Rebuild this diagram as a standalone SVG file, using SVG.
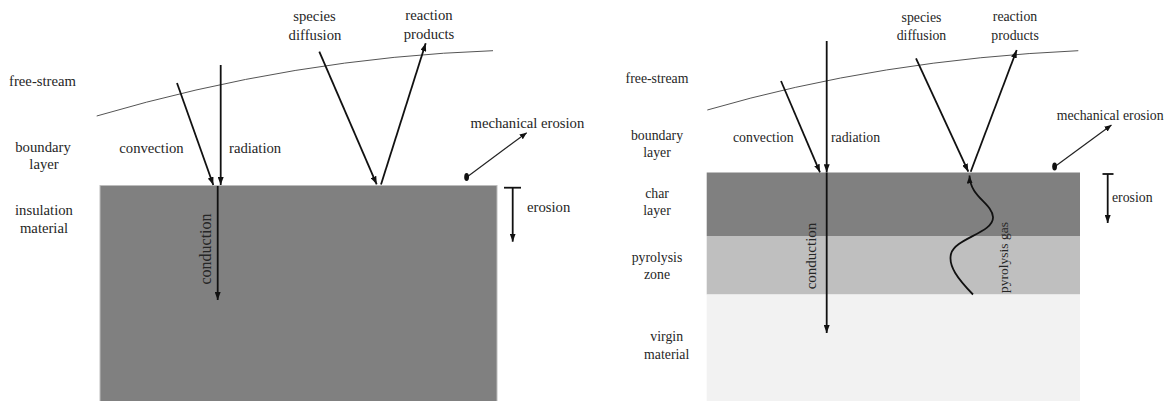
<svg xmlns="http://www.w3.org/2000/svg" width="1168" height="401" viewBox="0 0 1168 401">
<style>
text{font-family:"Liberation Serif","Times New Roman",serif;fill:#262626}
.l{font-size:14.7px}
.r{font-size:13.8px}
.c{text-anchor:middle}
.a{stroke:#111;stroke-width:1.8;fill:none}
.m{stroke:#222;stroke-width:1.2;fill:none}
.fs{stroke:#555;stroke-width:1;fill:none}
</style>
<defs>
<marker id="ah" markerUnits="userSpaceOnUse" markerWidth="8" markerHeight="6" refX="8" refY="3" orient="auto">
<path d="M0,0 L8,3 L0,6 z" fill="#111"/>
</marker>
<marker id="ahs" markerUnits="userSpaceOnUse" markerWidth="7" markerHeight="6" refX="7" refY="3" orient="auto">
<path d="M0,0 L7,3 L0,6 z" fill="#111"/>
</marker>
</defs>

<g id="left-panel">
<g id="insulation-material">
<rect x="100" y="185.5" width="397" height="216" fill="#808080" stroke="#bdbdbd" stroke-width="1"/>
</g>
<g id="free-stream-left">
<path class="fs" d="M96.7,116 Q295.4,57.6 493,50.7"/>
</g>
<g id="labels-left">
<text class="l c" x="42.5" y="86">free-stream</text>
<text class="l c" x="43" y="151.5">boundary</text>
<text class="l c" x="44" y="168.5">layer</text>
<text class="l c" x="44" y="215">insulation</text>
<text class="l c" x="44" y="233">material</text>
<text class="l c" x="151.5" y="153">convection</text>
<text class="l" x="229" y="153">radiation</text>
<text class="l c" x="314.5" y="21">species</text>
<text class="l c" x="315" y="40">diffusion</text>
<text class="l c" x="429" y="20">reaction</text>
<text class="l c" x="429" y="39">products</text>
<text class="l" x="470.5" y="128">mechanical erosion</text>
<text class="l" x="527" y="212">erosion</text>
<text style="font-size:16px" class="c" transform="translate(211,249) rotate(-90)">conduction</text>
</g>
</g>

<g id="right-panel">
<g id="char-layer"><rect x="706.7" y="172.5" width="373.3" height="63.5" fill="#808080"/></g>
<g id="pyrolysis-zone"><rect x="706.7" y="236" width="373.3" height="58.5" fill="#bfbfbf"/></g>
<g id="virgin-material"><rect x="706.7" y="294.5" width="373.3" height="107" fill="#f2f2f2"/></g>
<g id="free-stream-right">
<path class="fs" d="M707.3,110 Q880,59.6 1078.3,50.7"/>
</g>
<g id="labels-right">
<text class="r c" x="657" y="82.5">free-stream</text>
<text class="r c" x="657" y="140">boundary</text>
<text class="r c" x="657" y="157">layer</text>
<text class="r c" x="657" y="197.5">char</text>
<text class="r c" x="657" y="215">layer</text>
<text class="r c" x="657" y="261.5">pyrolysis</text>
<text class="r c" x="657" y="279">zone</text>
<text class="r c" x="666.7" y="341">virgin</text>
<text class="r c" x="666.7" y="359">material</text>
<text class="r" x="733" y="141.5">convection</text>
<text class="r" x="831" y="141.5">radiation</text>
<text class="r c" x="921.5" y="21.5">species</text>
<text class="r c" x="921.5" y="39.5">diffusion</text>
<text class="r c" x="1015" y="20.5">reaction</text>
<text class="r c" x="1015" y="39.5">products</text>
<text class="r" x="1056.7" y="120">mechanical erosion</text>
<text class="r" x="1112" y="202">erosion</text>
<text style="font-size:15px" class="c" transform="translate(816,256) rotate(-90)">conduction</text>
<text style="font-size:13.5px" class="c" transform="translate(1008,257.5) rotate(-90)">pyrolysis gas</text>
</g>
</g>

<g id="connectors">
<line class="a" x1="177" y1="83" x2="213.3" y2="185" marker-end="url(#ah)"/>
<line class="a" x1="220.7" y1="65" x2="220.7" y2="185" marker-end="url(#ah)"/>
<line class="a" x1="217.7" y1="186" x2="217.7" y2="300" marker-end="url(#ah)"/>
<line class="a" x1="319.3" y1="51.7" x2="376.7" y2="184.3" marker-end="url(#ah)"/>
<line class="a" x1="381" y1="184.5" x2="425.7" y2="43.3" marker-end="url(#ah)"/>
<line class="m" x1="467" y1="177" x2="526.7" y2="132.7" marker-end="url(#ahs)"/>
<ellipse cx="466.6" cy="177" rx="2.4" ry="4" fill="#111"/>
<line class="a" x1="512.7" y1="187.7" x2="512.7" y2="241.7" marker-end="url(#ah)"/>
<line class="a" x1="504" y1="187.7" x2="521" y2="187.7"/>

<line class="a" x1="781" y1="81" x2="820" y2="172.3" marker-end="url(#ah)"/>
<line class="a" x1="826.7" y1="41" x2="826.7" y2="172.3" marker-end="url(#ah)"/>
<line class="a" x1="826.7" y1="172.5" x2="826.7" y2="333" marker-end="url(#ah)"/>
<line class="a" x1="916" y1="58.3" x2="968.3" y2="171.7" marker-end="url(#ah)"/>
<line class="a" x1="970.7" y1="171.7" x2="1016.7" y2="50" marker-end="url(#ah)"/>
<line class="m" x1="1055" y1="166.5" x2="1111.5" y2="125" marker-end="url(#ahs)"/>
<ellipse cx="1054.6" cy="166.5" rx="2.4" ry="4" fill="#111"/>
<line class="a" x1="1107.7" y1="174" x2="1107.7" y2="223" marker-end="url(#ah)"/>
<line class="a" x1="1102.5" y1="174" x2="1113.5" y2="174"/>
<path class="a" stroke-width="1.5" d="M973,294.5 C958,279 948,266 951,254 C955,238 994,233 993,217 C992,203 970,197 969.5,175.5" marker-end="url(#ah)"/>
</g>
</svg>
